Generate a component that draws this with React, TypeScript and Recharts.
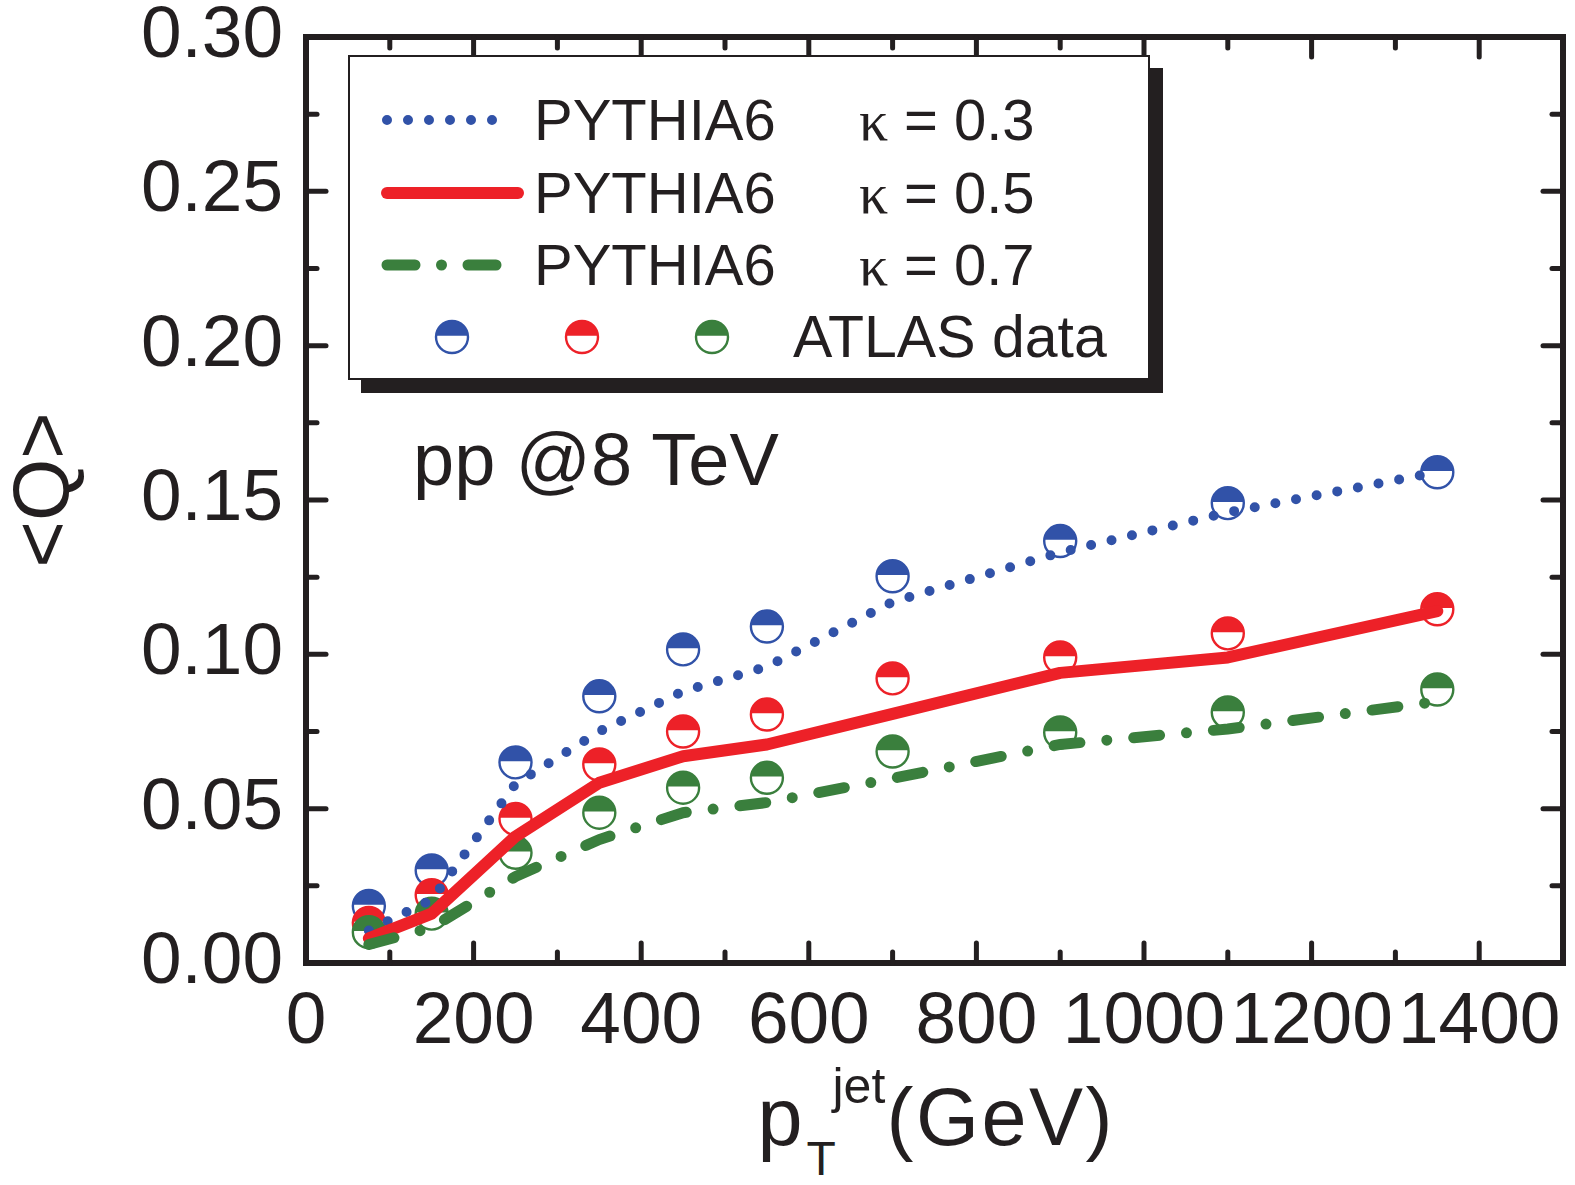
import React from "react";
import { ComposedChart, Line, Scatter, XAxis, YAxis, Legend, Customized } from "recharts";

// jet pT bins (GeV)
const ptJet = [75, 150, 250, 350, 450, 550, 700, 900, 1100, 1350];

// PYTHIA6 curves, <Q>
const pythiaK03 = [0.0105, 0.0205, 0.058, 0.075, 0.088, 0.096, 0.117, 0.133, 0.146, 0.159];
const pythiaK05 = [0.008, 0.016, 0.041, 0.0584, 0.067, 0.0708, 0.0807, 0.094, 0.099, 0.114];
const pythiaK07 = [0.006, 0.0115, 0.028, 0.04, 0.0487, 0.052, 0.0598, 0.0708, 0.0758, 0.0847];

// ATLAS data, <Q>
const atlasK03 = [0.0185, 0.03, 0.065, 0.0864, 0.1016, 0.109, 0.1253, 0.1367, 0.149, 0.159];
const atlasK05 = [0.013, 0.022, 0.0467, 0.0643, 0.075, 0.0805, 0.0922, 0.099, 0.1068, 0.1146];
const atlasK07 = [0.01, 0.016, 0.0357, 0.0487, 0.0568, 0.06, 0.0685, 0.0747, 0.0812, 0.0886];

const kappas = ["0.3", "0.5", "0.7"];

const xMajorTicks = [0, 200, 400, 600, 800, 1000, 1200, 1400];
const xMinorTicks = [100, 300, 500, 700, 900, 1100, 1300, 1500];
const yMajorTicks = [0, 0.05, 0.1, 0.15, 0.2, 0.25, 0.3];
const yMinorTicks = [0.025, 0.075, 0.125, 0.175, 0.225, 0.275];

const INK = "#231f20";
const BLUE = "#3152a8";
const RED = "#ed2128";
const GREEN = "#3a7f3d";
const FONT = "'Liberation Sans', Arial, Helvetica, sans-serif";
const SERIF = "'Liberation Serif', 'Times New Roman', serif";

const DOTTED = "0 21";
const DASH_DOT = "26 27 0 27";

const curveTable = ptJet.map((x, i) => ({
  x,
  k03: pythiaK03[i],
  k05: pythiaK05[i],
  k07: pythiaK07[i],
}));

const points = (vals: number[]) => ptJet.map((x, i) => ({ x, q: vals[i] }));

const xTicks = [...xMajorTicks, ...xMinorTicks].sort((a, b) => a - b);
const yTicks = [...yMajorTicks, ...yMinorTicks].sort((a, b) => a - b);

const MAJOR = 20;
const MINOR = 11;

function tickLine(x1: number, y1: number, x2: number, y2: number) {
  return <line x1={x1} y1={y1} x2={x2} y2={y2} stroke={INK} strokeWidth={5} strokeLinecap="round" />;
}

function BottomTick({ x, y, payload }: any) {
  const major = xMajorTicks.includes(payload.value);
  return (
    <g>
      {tickLine(x, y, x, y - (major ? MAJOR : MINOR))}
      {major && (
        <text x={x} y={y + 80} textAnchor="middle" fontSize={73} fontFamily={FONT} fill={INK}>
          {payload.value}
        </text>
      )}
    </g>
  );
}

function TopTick({ x, y, payload }: any) {
  const major = xMajorTicks.includes(payload.value);
  return <g>{tickLine(x, y, x, y + (major ? MAJOR : MINOR))}</g>;
}

function LeftTick({ x, y, payload }: any) {
  const major = yMajorTicks.includes(payload.value);
  return (
    <g>
      {tickLine(x, y, x + (major ? MAJOR : MINOR), y)}
      {major && (
        <text x={x - 23} y={y + 20} textAnchor="end" fontSize={73} fontFamily={FONT} fill={INK}>
          {payload.value.toFixed(2)}
        </text>
      )}
    </g>
  );
}

function RightTick({ x, y, payload }: any) {
  const major = yMajorTicks.includes(payload.value);
  return <g>{tickLine(x, y, x - (major ? MAJOR : MINOR), y)}</g>;
}

function HalfDot({ cx, cy, color, r = 16 }: { cx: number; cy: number; color: string; r?: number }) {
  if (cx == null || cy == null) return null;
  const c = cy - 1.2;
  const dx = Math.sqrt(r * r - 1.44);
  return (
    <g>
      <circle cx={cx} cy={cy} r={r} fill="#fff" stroke={color} strokeWidth={2.4} />
      <path d={`M ${cx - dx} ${c} A ${r} ${r} 0 0 1 ${cx + dx} ${c} Z`} fill={color} />
    </g>
  );
}

function XTitle({ viewBox }: any) {
  const mid = viewBox.x + viewBox.width / 2;
  const base = viewBox.y + 182;
  return (
    <text y={base} fontFamily={FONT} fill={INK} fontSize={81}>
      <tspan x={mid - 177}>p</tspan>
      <tspan x={mid - 128} fontSize={48} y={base + 30}>T</tspan>
      <tspan x={mid - 102} fontSize={50} y={base - 42}>jet</tspan>
      <tspan x={mid - 48} y={base} letterSpacing={2.5}>(GeV)</tspan>
    </text>
  );
}

function YTitle({ viewBox }: any) {
  const x = 69;
  const y = viewBox.y + viewBox.height / 2 - 10;
  return (
    <text x={x} y={y} transform={`rotate(-90 ${x} ${y})`} textAnchor="middle" fontFamily={FONT} fontSize={80} fill={INK}>
      {"<Q>"}
    </text>
  );
}

function Annotation() {
  return (
    <text x={413} y={485} fontFamily={FONT} fontSize={74} fill={INK}>
      pp @8 TeV
    </text>
  );
}

function LegendBox() {
  const rows = [
    { color: BLUE, width: 10, dash: DOTTED, end: 160 },
    { color: RED, width: 12, dash: undefined, end: 170 },
    { color: GREEN, width: 11, dash: "28 26.5 0 26.5", end: 149 },
  ];
  const rowY = [65, 138, 210];
  return (
    <div
      style={{
        width: 802,
        height: 325,
        boxSizing: "border-box",
        border: `2px solid ${INK}`,
        background: "#fff",
        boxShadow: `13px 13px 0 ${INK}`,
      }}
    >
      <svg width={798} height={321} style={{ display: "block", marginLeft: -2, marginTop: -2, overflow: "visible" }}>
        {rows.map((r, i) => (
          <g key={i}>
            <line
              x1={39}
              x2={r.end}
              y1={rowY[i]}
              y2={rowY[i]}
              stroke={r.color}
              strokeWidth={r.width}
              strokeDasharray={r.dash}
              strokeLinecap="round"
            />
            <text x={186} y={rowY[i] + 20} fontFamily={FONT} fontSize={58} fill={INK}>
              PYTHIA6
            </text>
            <text x={511} y={rowY[i] + 20} fontFamily={SERIF} fontSize={58} fill={INK}>
              κ
            </text>
            <text x={556} y={rowY[i] + 20} fontFamily={FONT} fontSize={58} fill={INK}>
              = {kappas[i]}
            </text>
          </g>
        ))}
        <HalfDot cx={104} cy={282} color={BLUE} />
        <HalfDot cx={234} cy={282} color={RED} />
        <HalfDot cx={364} cy={282} color={GREEN} />
        <text x={445} y={302} fontFamily={FONT} fontSize={59} fill={INK}>
          ATLAS data
        </text>
      </svg>
    </div>
  );
}

const axisLine = { stroke: INK, strokeWidth: 6, strokeLinecap: "square" as const };

export default function App() {
  return (
    <div style={{ position: "absolute", left: 0, top: 0, background: "#fff" }}>
      <ComposedChart width={1575} height={1185} data={curveTable} margin={{ top: 36, right: 11, bottom: 0, left: 0 }}>
        <XAxis
          dataKey="x"
          type="number"
          domain={[0, 1500]}
          ticks={xTicks}
          interval={0}
          allowDataOverflow
          height={222}
          tickSize={0}
          tickMargin={0}
          tickLine={false}
          axisLine={axisLine}
          tick={(p: any) => <BottomTick {...p} />}
          label={<XTitle />}
        />
        {/* mirrored frame axes: a zero-size axis is not drawn, so give them 1px */}
        <XAxis
          xAxisId="top"
          orientation="top"
          dataKey="x"
          type="number"
          domain={[0, 1500]}
          ticks={xTicks}
          interval={0}
          allowDataOverflow
          height={1}
          tickSize={0}
          tickMargin={0}
          tickLine={false}
          axisLine={axisLine}
          tick={(p: any) => <TopTick {...p} />}
        />
        <YAxis
          type="number"
          domain={[0, 0.3]}
          ticks={yTicks}
          interval={0}
          allowDataOverflow
          width={306}
          tickSize={0}
          tickMargin={0}
          tickLine={false}
          axisLine={axisLine}
          tick={(p: any) => <LeftTick {...p} />}
          label={<YTitle />}
        />
        <YAxis
          yAxisId="right"
          orientation="right"
          type="number"
          domain={[0, 0.3]}
          ticks={yTicks}
          interval={0}
          allowDataOverflow
          width={1}
          tickSize={0}
          tickMargin={0}
          tickLine={false}
          axisLine={axisLine}
          tick={(p: any) => <RightTick {...p} />}
        />

        {/* invisible series so the top/right axes have something attached */}
        <Line
          xAxisId="top"
          yAxisId="right"
          dataKey="k05"
          stroke="none"
          dot={false}
          activeDot={false}
          legendType="none"
          isAnimationActive={false}
        />

        <Scatter data={points(atlasK03)} dataKey="q" isAnimationActive={false} shape={(p: any) => <HalfDot cx={p.cx} cy={p.cy} color={BLUE} />} />
        <Scatter data={points(atlasK05)} dataKey="q" isAnimationActive={false} shape={(p: any) => <HalfDot cx={p.cx} cy={p.cy} color={RED} />} />
        <Scatter data={points(atlasK07)} dataKey="q" isAnimationActive={false} shape={(p: any) => <HalfDot cx={p.cx} cy={p.cy} color={GREEN} />} />

        <Line
          type="linear"
          dataKey="k03"
          stroke={BLUE}
          strokeWidth={10}
          strokeDasharray={DOTTED}
          strokeLinecap="round"
          dot={false}
          activeDot={false}
          isAnimationActive={false}
          zIndex={650}
        />
        <Line
          type="linear"
          dataKey="k05"
          stroke={RED}
          strokeWidth={12}
          strokeLinejoin="round"
          strokeLinecap="round"
          dot={false}
          activeDot={false}
          isAnimationActive={false}
          zIndex={650}
        />
        <Line
          type="linear"
          dataKey="k07"
          stroke={GREEN}
          strokeWidth={11}
          strokeDasharray={DASH_DOT}
          strokeLinecap="round"
          dot={false}
          activeDot={false}
          isAnimationActive={false}
          zIndex={650}
        />

        <Customized component={Annotation} />
        <Legend
          layout="horizontal"
          verticalAlign="middle"
          align="center"
          content={() => <LegendBox />}
          wrapperStyle={{ left: 348, top: 55, width: 802, height: 325 }}
        />
      </ComposedChart>
    </div>
  );
}
